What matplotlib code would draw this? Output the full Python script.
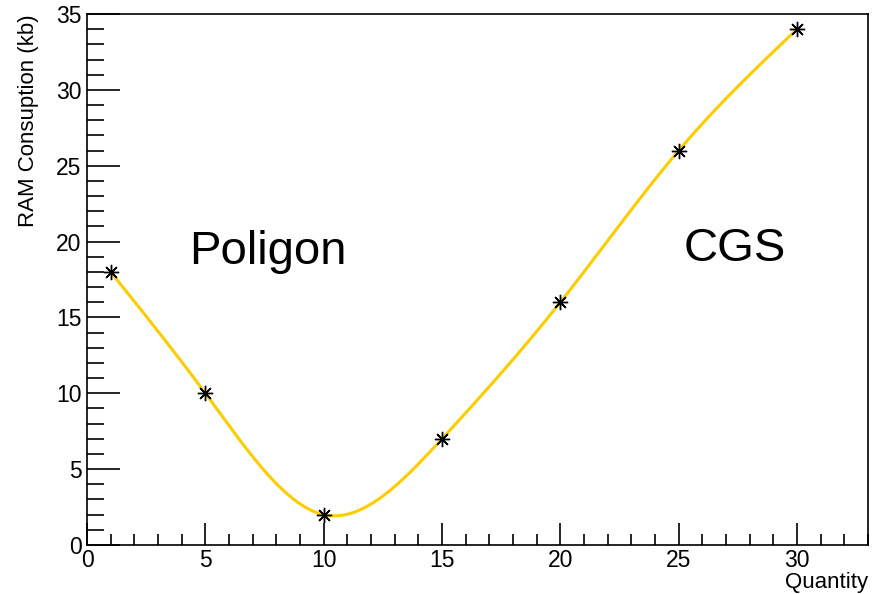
import numpy as np
import matplotlib.pyplot as plt
from matplotlib.ticker import MultipleLocator

# ── Data ───────────────────────────────────────────────
quantity = [1, 5, 10, 15, 20, 25, 30]
ram_kb   = [18, 10, 2, 7, 16, 26, 34]


# ── Natural cubic spline (ROOT-style smooth curve) ────
def natural_spline(x, y, xs):
    x = np.asarray(x, float)
    y = np.asarray(y, float)
    n = len(x)
    h = np.diff(x)
    A = np.zeros((n, n))
    b = np.zeros(n)
    A[0, 0] = A[-1, -1] = 1
    for i in range(1, n - 1):
        A[i, i - 1] = h[i - 1]
        A[i, i]     = 2 * (h[i - 1] + h[i])
        A[i, i + 1] = h[i]
        b[i] = 6 * ((y[i + 1] - y[i]) / h[i] - (y[i] - y[i - 1]) / h[i - 1])
    M = np.linalg.solve(A, b)
    idx = np.clip(np.searchsorted(x, xs) - 1, 0, n - 2)
    x0, x1 = x[idx], x[idx + 1]
    hh = x1 - x0
    t0, t1 = x1 - xs, xs - x0
    return (M[idx] * t0**3 / (6 * hh) + M[idx + 1] * t1**3 / (6 * hh)
            + (y[idx] / hh - M[idx] * hh / 6) * t0
            + (y[idx + 1] / hh - M[idx + 1] * hh / 6) * t1)


xs = np.linspace(quantity[0], quantity[-1], 400)
ys = natural_spline(quantity, ram_kb, xs)

# ── Plot ───────────────────────────────────────────────
plt.rcParams["font.family"] = ["Liberation Sans", "DejaVu Sans"]

fig = plt.figure(figsize=(8.72, 5.94), dpi=100)
ax = fig.add_axes([87 / 872, 1 - 545 / 594, (868 - 87) / 872, (545 - 14) / 594])

ax.plot(xs, ys, color="#FFCC00", lw=2.2, zorder=2)
ax.plot(quantity, ram_kb, ls="none", marker=(8, 2, 0), ms=11,
        mec="black", mew=1.0, zorder=3)

ax.set_xlim(0, 33)
ax.set_ylim(0, 35)

ax.xaxis.set_major_locator(MultipleLocator(5))
ax.xaxis.set_minor_locator(MultipleLocator(1))
ax.yaxis.set_major_locator(MultipleLocator(5))
ax.yaxis.set_minor_locator(MultipleLocator(1))

ax.tick_params(which="both", direction="in", top=False, right=False,
               width=1.2, labelsize=16.5, color="black")
ax.tick_params(axis="x", which="major", length=16, pad=3)
ax.tick_params(axis="x", which="minor", length=8)
ax.tick_params(axis="y", which="major", length=24, pad=4)
ax.tick_params(axis="y", which="minor", length=12)

for s in ax.spines.values():
    s.set_linewidth(1.2)

ax.set_xlabel("Quantity", fontsize=16, loc="right", labelpad=0)
ax.set_ylabel("RAM Consuption (kb)", fontsize=16, loc="top", labelpad=12)

ax.text(7.65, 19.3, "Poligon", fontsize=34, ha="center", va="center")
ax.text(27.35, 19.5, "CGS", fontsize=34, ha="center", va="center")

plt.savefig("out.png", dpi=100)
plt.close()
